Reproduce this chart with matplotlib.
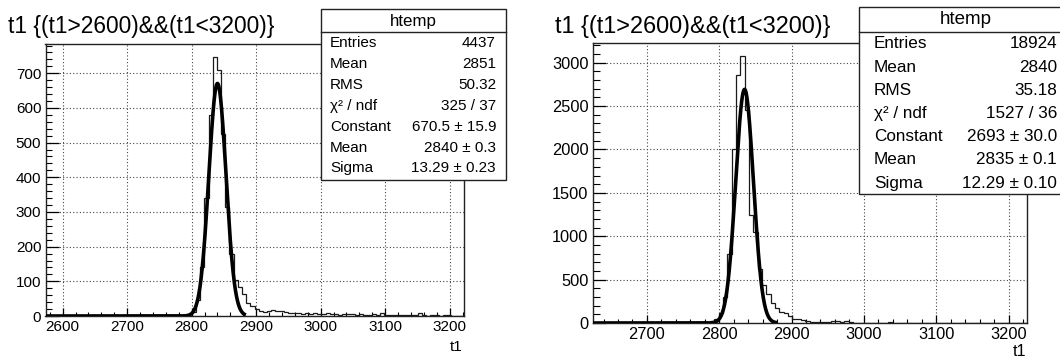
import numpy as np
import matplotlib
matplotlib.use("Agg")
import matplotlib.pyplot as plt
from matplotlib.patches import Rectangle
from matplotlib.ticker import MultipleLocator

plt.rcParams['font.family'] = ['Liberation Sans', 'DejaVu Sans']

# ---------------- data ----------------
title_text = "t1 {(t1>2600)&&(t1<3200)}"
xlabel_text = "t1"

# left histogram
left_range = (2573.5, 3221.5)
left_counts = [0, 0, 0, 1, 0, 0, 0, 0, 0, 1, 0, 0, 0, 0, 0, 1, 2, 0, 1, 0,
               0, 0, 3, 1, 1, 0, 2, 2, 1, 3, 2, 1, 4, 3,
               5, 12, 45, 140, 340, 580, 747, 708, 525, 315, 180, 105, 85, 62, 38, 30,
               20, 15, 11,
               14, 16, 13, 15, 12, 9, 8, 10, 7, 9, 6, 8, 5, 7, 9, 5, 6, 4, 6, 5,
               7, 4, 5, 4, 3, 5, 4, 9, 3, 4, 3, 2, 3, 4, 2, 3, 8, 2, 1, 3,
               2, 1, 3, 2, 1, 0, 0]
left_fit = dict(const=670.5, mean=2840.0, sigma=13.29, xmax=2884.0)
left_stats = [("Entries", "4437"), ("Mean", "2851"), ("RMS", "50.32"),
              ("χ² / ndf", "325 / 37"), ("Constant", "670.5 ± 15.9"),
              ("Mean", "2840 ± 0.3"), ("Sigma", "13.29 ± 0.23")]

# right histogram
right_range = (2625.0, 3225.0)
right_counts = [0, 0, 0, 0, 0, 0, 0, 0, 0, 0, 0, 0, 0, 0, 0, 0, 0, 0, 0, 0,
                0, 0, 3, 5, 8, 12, 15, 20, 45, 110, 300, 800, 2000, 2859, 3078, 2450,
                1250, 1050, 620, 440, 330, 230, 170, 125, 110, 80, 50, 45, 30, 28,
                15, 12, 10, 8, 6, 20, 25, 8, 18, 6, 5, 4,
                3, 5, 2, 4, 3, 2, 6, 3, 2, 1, 3, 2, 1, 4, 2, 1, 2, 3, 1, 0,
                2, 1, 1, 3, 0, 1, 2, 0, 1, 0, 0, 1, 0, 0, 0, 0, 0, 0]
right_fit = dict(const=2693.0, mean=2835.0, sigma=12.29, xmax=2880.0)
right_stats = [("Entries", "18924"), ("Mean", "2840"), ("RMS", "35.18"),
               ("χ² / ndf", "1527 / 36"), ("Constant", "2693 ± 30.0"),
               ("Mean", "2835 ± 0.1"), ("Sigma", "12.29 ± 0.10")]

# ---------------- figure ----------------
W, H = 1060, 362
fig = plt.figure(figsize=(W / 100, H / 100), dpi=100)
fig.patch.set_facecolor("white")


def fx(px):
    return px / W


def fy(py):
    return 1 - py / H


def draw_panel(frame, xr, counts, fit, xmajor, ymajor, ylocmaj, lab_fs, xt_len, yt_len):
    x0, x1, y0, y1 = frame  # pixel coords: left, right, top, bottom
    ax = fig.add_axes([fx(x0), fy(y1), fx(x1 - x0), (y1 - y0) / H])
    counts = np.asarray(counts, dtype=float)
    edges = np.linspace(xr[0], xr[1], len(counts) + 1)
    ax.stairs(counts, edges, color="#1a1a1a", lw=0.9, zorder=3)
    xs = np.linspace(xr[0], fit["xmax"], 800)
    ys = fit["const"] * np.exp(-0.5 * ((xs - fit["mean"]) / fit["sigma"]) ** 2)
    ax.plot(xs, ys, color="black", lw=2.6, zorder=4, solid_capstyle="butt")
    ax.set_xlim(*xr)
    ax.set_ylim(0, counts.max() * 1.05)
    ax.xaxis.set_major_locator(MultipleLocator(100))
    ax.xaxis.set_minor_locator(MultipleLocator(20))
    ax.yaxis.set_major_locator(MultipleLocator(ylocmaj))
    ax.yaxis.set_minor_locator(MultipleLocator(ylocmaj / 5))
    ax.grid(True, which="major", color="#444444", lw=0.8, linestyle=(0, (1, 2)))
    ax.set_axisbelow(True)
    ax.tick_params(axis="x", which="major", direction="in", length=xt_len, width=0.9,
                   labelsize=lab_fs, pad=3)
    ax.tick_params(axis="x", which="minor", direction="in", length=xt_len / 2, width=0.8)
    ax.tick_params(axis="y", which="major", direction="in", length=yt_len, width=0.9,
                   labelsize=lab_fs, pad=3)
    ax.tick_params(axis="y", which="minor", direction="in", length=yt_len / 2, width=0.8)
    for s in ax.spines.values():
        s.set_linewidth(1.0)
        s.set_color("#222222")
    return ax


axL = draw_panel((45.5, 463.6, 44.0, 316.0), left_range, left_counts, left_fit,
                 100, 100, 100, 11, 5.8, 9.0)
axR = draw_panel((592.7, 1026.6, 42.6, 323.0), right_range, right_counts, right_fit,
                 100, 500, 500, 11.8, 6.0, 9.4)

# titles
fig.text(fx(7.5), fy(33.5), title_text, fontsize=16.4, ha="left", va="baseline")
fig.text(fx(555.0), fy(33.0), title_text, fontsize=16.9, ha="left", va="baseline")

# axis labels
fig.text(fx(463.0), fy(347.0), xlabel_text, fontsize=11, ha="right", va="center")
fig.text(fx(1026.0), fy(351.0), xlabel_text, fontsize=11.8, ha="right", va="center")


def stats_box(x0, x1, y0, y1, yhdr, hdr_cx, hdr_fs, rows, row_y0, row_dy,
              lab_x, val_x, fs):
    rect = Rectangle((fx(x0), fy(y1)), fx(x1 - x0), (y1 - y0) / H,
                     transform=fig.transFigure, facecolor="white",
                     edgecolor="#222222", lw=1.0, zorder=10)
    fig.patches.append(rect)
    fig.lines.append(plt.Line2D([fx(x0), fx(x1)], [fy(yhdr), fy(yhdr)],
                                transform=fig.transFigure, color="#222222",
                                lw=1.0, zorder=11))
    fig.text(fx(hdr_cx), fy((y0 + yhdr) / 2 + 0.5), "htemp", fontsize=hdr_fs,
             ha="center", va="center", zorder=12)
    for i, (lab, val) in enumerate(rows):
        yy = fy(row_y0 + i * row_dy)
        fig.text(fx(lab_x), yy, lab, fontsize=fs, ha="left", va="center", zorder=12)
        fig.text(fx(val_x), yy, val, fontsize=fs, ha="right", va="center", zorder=12)


stats_box(321.0, 506.0, 9.4, 179.5, 32.0, 413.0, 12.2, left_stats,
          43.0, 20.9, 330.0, 496.0, 11.0)
stats_box(859.0, 1070.0, 7.0, 194.0, 32.0, 966.0, 13.5, right_stats,
          44.0, 23.2, 874.0, 1057.0, 12.3)

fig.savefig("out.png", dpi=100, facecolor="white")
